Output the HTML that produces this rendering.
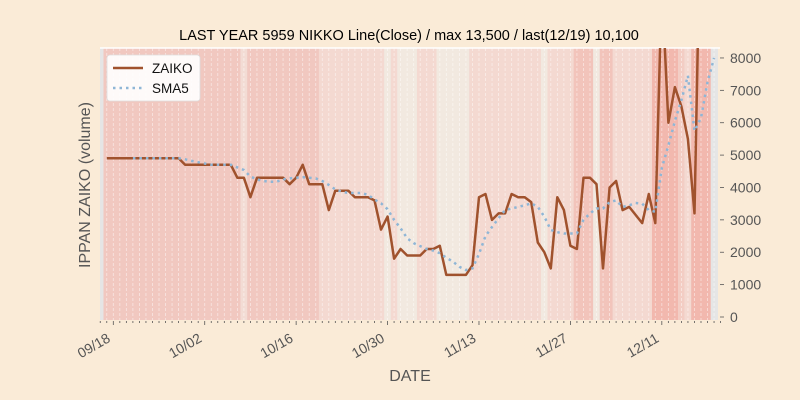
<!DOCTYPE html>
<html><head><meta charset="utf-8"><style>
body{margin:0;background:#faebd7;font-family:"Liberation Sans",sans-serif}
svg{display:block}
</style></head><body>
<svg id="chart" width="800" height="400" xmlns="http://www.w3.org/2000/svg"></svg>
<script>
const closeVals=[4900,4900,4900,4900,4900,4900,4900,4900,4900,4900,4900,4900,
4700,4700,4700,4700,4700,4700,4700,4700,
4300,4300,3700,4300,4300,4300,4300,4300,4100,4300,4700,4100,4100,4100,3300,3900,3900,3900,3700,3700,3700,3600,2700,3100,1800,2100,1900,1900,1900,2100,2100,2200,1300,1300,1300,1300,1600,3700,3800,3000,3200,3200,3800,3700,3700,3550,2300,2000,1500,3700,3300,2200,2100,4300,4300,4100,1500,4000,4200,3300,3400,3150,2900,3800,2900,10250,6000,7100,6500,5500,3200,13500,9200,10100];
const smaVals=[null,null,null,null,4900,4900,4900,4900,4900,4900,4900,4900,4870,4820,4780,4740,4700,4700,4700,4700,4620,4540,4340,4250,4200,4180,4180,4250,4280,4300,4320,4300,4280,4200,4080,3940,3870,3830,3830,3830,3770,3630,3510,3330,3000,2740,2430,2280,2190,2100,2050,1970,1830,1710,1550,1450,1500,1950,2500,2780,3050,3300,3350,3400,3450,3510,3400,3100,2690,2620,2580,2580,2580,3000,3200,3350,3350,3550,3600,3400,3450,3520,3500,3300,3250,4600,5300,6050,6700,7450,5750,6150,7250,8000];
const yTicks=[0,1000,2000,3000,4000,5000,6000,7000,8000];
const xTickLabels=["09/18","10/02","10/16","10/30","11/13","11/27","12/11"];
const xTickDays=[0,14,28,42,56,70,84];
// background bands: [startDay, endDay, color]
const bands=[[-1,20,"#f1c8c0"],[20,21,"#f3dcd4"],[21,32,"#f1c8c0"],[32,42,"#f4d9d1"],[42,43,"#f2e9e0"],[43,44,"#f4d9d1"],[44,47,"#f2e9e0"],[47,50,"#f4d9d1"],[50,55,"#f2e9e0"],[55,66,"#f4d9d1"],[66,67,"#f2e9e0"],[67,71,"#f4d9d1"],[71,74,"#f2c4bb"],[74,75,"#f2e9e0"],[75,77,"#f2c4bb"],[77,83,"#f4d9d1"],[83,87,"#f2b8ae"],[87,88,"#f3cdc4"],[88,89,"#f4d9d1"],[89,92,"#f2b8ae"]];

const NS="http://www.w3.org/2000/svg";
const svg=document.getElementById('chart');
const L=100,R=718,T=48,B=320;
const x=d=>113.3+d*6.53;
const y=v=>317-v*0.03238;
function mk(tag,attrs,parent){const e=document.createElementNS(NS,tag);for(const k in attrs)e.setAttribute(k,attrs[k]);(parent||svg).appendChild(e);return e;}

const defs=mk('defs',{});
const cp=mk('clipPath',{id:'clip'},defs);
mk('rect',{x:L,y:T,width:R-L,height:B-T},cp);

const bg=mk('rect',{x:L,y:T,width:R-L,height:B-T,fill:'#e5e5e5'});



const bandG=mk('g',{'clip-path':'url(#clip)'});


bands.forEach(b=>{
  const r=mk('rect',{x:x(b[0])-3.3,y:T,width:(b[1]-b[0])*6.53,height:B-T,fill:b[2]},bandG);
  
  
});
const gridG=mk('g',{stroke:'#ffffff','stroke-opacity':0.55,'stroke-width':0.8,'stroke-dasharray':'3,2'});


for(let d=-1;d<=92;d++){mk('line',{x1:x(d),x2:x(d),y1:T,y2:B},gridG);}
mk('line',{x1:L,x2:R+2,y1:T,y2:T,stroke:'#fff','stroke-width':1.5});

const xt=mk('g',{stroke:'#555','stroke-width':0.8});


for(let d=-2;d<=93;d++){const big=xTickDays.includes(d);mk('line',{x1:x(d),x2:x(d),y1:B+1,y2:B+(big?5:3)},xt);}
xTickLabels.forEach((lab,i)=>{
  const px=x(xTickDays[i])-2;
  const py=B+21;
  const t=mk('text',{x:px,y:py,'text-anchor':'end',transform:`rotate(-30 ${px} ${py})`,'font-size':14,fill:'#555'});
  t.textContent=lab;
  
  
});
yTicks.forEach(v=>{
  mk('line',{x1:R+2,x2:R+6,y1:y(v),y2:y(v),stroke:'#555','stroke-width':0.8});
  const t=mk('text',{x:R+12,y:y(v)+5,'font-size':14,fill:'#555'});
  t.textContent=v;
  
  
});

const lg=mk('g',{'clip-path':'url(#clip)'});
let p='';closeVals.forEach((v,i)=>{p+=(i?'L':'M')+x(i-1).toFixed(1)+','+y(v).toFixed(1);});
const cl=mk('path',{d:p,fill:'none',stroke:'#a0522d','stroke-width':2.5,'stroke-linejoin':'round'},lg);


let q='';let first=true;smaVals.forEach((v,i)=>{if(v==null)return;q+=(first?'M':'L')+x(i-1).toFixed(1)+','+y(v).toFixed(1);first=false;});
const sl=mk('path',{d:q,fill:'none',stroke:'#8fb6d6','stroke-width':2.5,'stroke-dasharray':'2.5,4','stroke-linecap':'butt'},lg);



const leg=mk('g',{});


mk('rect',{x:107,y:55,width:93,height:46,rx:3,fill:'#fff','fill-opacity':0.9,stroke:'#ddd','stroke-width':0.8},leg);
mk('line',{x1:113,x2:143,y1:68,y2:68,stroke:'#a0522d','stroke-width':2.5},leg);
mk('line',{x1:113,x2:143,y1:88,y2:88,stroke:'#8fb6d6','stroke-width':2.5,'stroke-dasharray':'2.5,4'},leg);
const l1=mk('text',{x:152,y:73,'font-size':13.5,fill:'#111'},leg);l1.textContent='ZAIKO';


const l2=mk('text',{x:152,y:93,'font-size':13.5,fill:'#111'},leg);l2.textContent='SMA5';



const tt=mk('text',{x:409,y:40,'text-anchor':'middle','font-size':14.5,fill:'#000'});
tt.textContent='LAST YEAR 5959 NIKKO Line(Close) / max 13,500 / last(12/19) 10,100';


const yl=mk('text',{x:90,y:185,'text-anchor':'middle','font-size':16,fill:'#555',transform:'rotate(-90 90 185)'});
yl.textContent='IPPAN ZAIKO (volume)';


const xl=mk('text',{x:410,y:381,'text-anchor':'middle','font-size':16,fill:'#555'});
xl.textContent='DATE';


</script>
</body></html>
